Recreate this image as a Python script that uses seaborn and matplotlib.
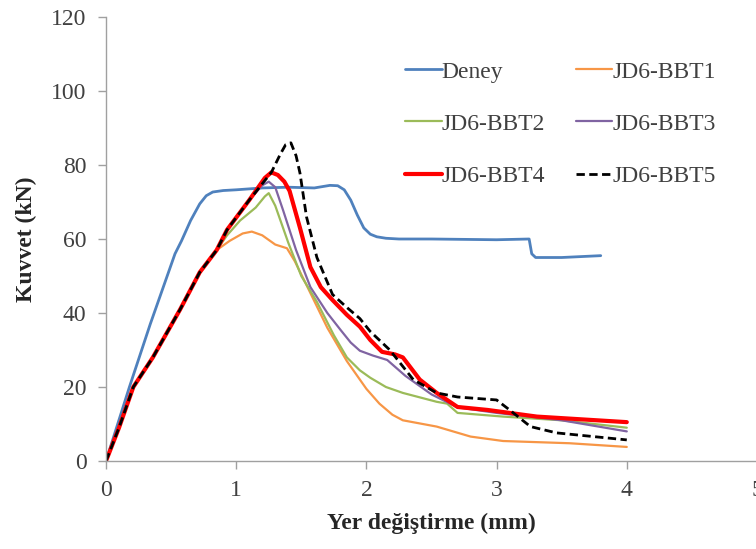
import matplotlib
matplotlib.use("Agg")
import matplotlib.pyplot as plt
import seaborn as sns

# shared loading branch (all JD6 models follow the same path up to ~0.85 mm)
rise_x = [0, 0.1, 0.21, 0.36, 0.57, 0.72, 0.85]
rise_y = [0, 9, 20, 28, 41, 51, 57]

deney_x = [0, 0.18, 0.34, 0.47, 0.53, 0.58, 0.65, 0.72, 0.77, 0.82, 0.9, 1.0,
           1.2, 1.4, 1.6, 1.72, 1.78, 1.83, 1.88, 1.93, 1.98, 2.03, 2.08,
           2.15, 2.25, 2.5, 3.0, 3.25, 3.27, 3.3, 3.5, 3.8]
deney_y = [0, 20, 37, 50, 56, 59.5, 65, 69.5, 71.7, 72.7, 73.1, 73.3, 73.8,
           74, 73.8, 74.5, 74.4, 73.3, 70.5, 66.5, 63, 61.3, 60.6, 60.2, 60,
           60, 59.8, 60, 56, 55, 55, 55.5]

bbt1_x = rise_x + [0.95, 1.05, 1.12, 1.2, 1.3, 1.39, 1.45, 1.52, 1.7, 1.85,
                   2.0, 2.1, 2.2, 2.28, 2.54, 2.8, 3.05, 3.56, 4.0]
bbt1_y = rise_y + [59.5, 61.5, 62, 61, 58.5, 57.5, 54, 49, 36, 27, 19.5,
                   15.5, 12.5, 11, 9.3, 6.6, 5.4, 4.8, 3.8]

bbt2_x = rise_x + [0.93, 1.03, 1.15, 1.22, 1.25, 1.3, 1.4, 1.5, 1.62, 1.75,
                   1.85, 1.95, 2.03, 2.15, 2.28, 2.54, 2.62, 2.7, 3.05, 3.5,
                   4.0]
bbt2_y = rise_y + [61, 65, 68.5, 71.5, 72.4, 69, 59, 50, 43, 34, 28, 24.5,
                   22.5, 20, 18.4, 16, 15.5, 13, 12, 11, 9]

bbt3_x = rise_x + [0.93, 1.1, 1.2, 1.25, 1.3, 1.36, 1.46, 1.57, 1.7, 1.8,
                   1.88, 1.95, 2.05, 2.16, 2.3, 2.5, 2.7, 3.0, 3.5, 4.0]
bbt3_y = rise_y + [62.5, 70.5, 74.5, 75.5, 74, 67.8, 57, 47, 40, 35.5, 32,
                   29.8, 28.5, 27.3, 23, 18, 14.5, 13, 11, 8]

bbt4_x = rise_x + [0.93, 1.1, 1.22, 1.27, 1.32, 1.37, 1.41, 1.49, 1.57, 1.65,
                   1.74, 1.85, 1.95, 2.03, 2.12, 2.22, 2.28, 2.41, 2.54, 2.7,
                   2.93, 3.31, 4.0]
bbt4_y = rise_y + [62.5, 70.5, 76.5, 78, 77.3, 75.5, 73, 63, 52.4, 47, 43.5,
                   39.5, 36.3, 32.7, 29.5, 28.8, 28, 22, 18.4, 14.6, 13.8, 12,
                   10.5]

bbt5_x = rise_x + [0.93, 1.1, 1.27, 1.34, 1.38, 1.42, 1.46, 1.49, 1.54, 1.62,
                   1.74, 1.85, 1.95, 2.03, 2.18, 2.36, 2.54, 2.7, 3.0, 3.1,
                   3.26, 3.46, 4.0]
bbt5_y = rise_y + [62.5, 70.5, 78, 83, 85.5, 86, 82.5, 77.8, 66, 55, 45,
                   41.5, 38.5, 35, 30, 22, 18.4, 17.3, 16.5, 13.8, 9.3, 7.6,
                   5.7]

x_ticks = [0, 1, 2, 3, 4, 5]
y_ticks = [0, 20, 40, 60, 80, 100, 120]


def main():
    sns.set_style("ticks")
    plt.rcParams["font.family"] = ["Liberation Serif", "DejaVu Serif"]

    fig = plt.figure(figsize=(7.56, 5.49), dpi=100)
    ax = fig.add_axes([0.1402, 0.1603, 0.8611, 0.8087])

    series = [
        ("Deney", deney_x, deney_y, "#4F81BD", 2.0, "-"),
        ("JD6-BBT1", bbt1_x, bbt1_y, "#F79646", 1.6, "-"),
        ("JD6-BBT2", bbt2_x, bbt2_y, "#9BBB59", 1.6, "-"),
        ("JD6-BBT3", bbt3_x, bbt3_y, "#8064A2", 1.6, "-"),
        ("JD6-BBT4", bbt4_x, bbt4_y, "#FF0000", 3.0, "-"),
        ("JD6-BBT5", bbt5_x, bbt5_y, "#000000", 2.0, (0, (3, 1.6))),
    ]
    for name, xs, ys, color, lw, ls in series:
        sns.lineplot(x=xs, y=ys, ax=ax, color=color, linewidth=lw,
                     linestyle=ls, label=name, sort=False, estimator=None)

    ax.set_xlim(0, 5)
    ax.set_ylim(0, 120)
    ax.set_xticks(x_ticks)
    ax.set_yticks(y_ticks)
    ax.tick_params(labelsize=17, colors="#A0A0A0", labelcolor="#404040",
                   length=6, width=1, pad=8)
    for side in ["top", "right"]:
        ax.spines[side].set_visible(False)
    for side in ["left", "bottom"]:
        ax.spines[side].set_color("#A0A0A0")
        ax.spines[side].set_linewidth(1)

    ax.set_xlabel("Yer değiştirme (mm)", fontsize=17, fontweight="bold",
                  labelpad=8)
    ax.set_ylabel("Kuvvet (kN)", fontsize=17, fontweight="bold", labelpad=10)

    # legend filled column-wise, so reorder to get rows as in the reference
    handles, labels = ax.get_legend_handles_labels()
    order = [0, 2, 4, 1, 3, 5]
    ax.legend([handles[i] for i in order], [labels[i] for i in order],
              ncol=2, frameon=False, fontsize=17, loc="upper left",
              bbox_to_anchor=(405 / 756, 1 - 61 / 549),
              bbox_transform=fig.transFigure, borderpad=0, borderaxespad=0,
              handlelength=1.55, handletextpad=0.0, columnspacing=1.3,
              labelspacing=1.3, labelcolor="#404040")

    fig.savefig("out.png", dpi=100)


if __name__ == "__main__":
    main()
